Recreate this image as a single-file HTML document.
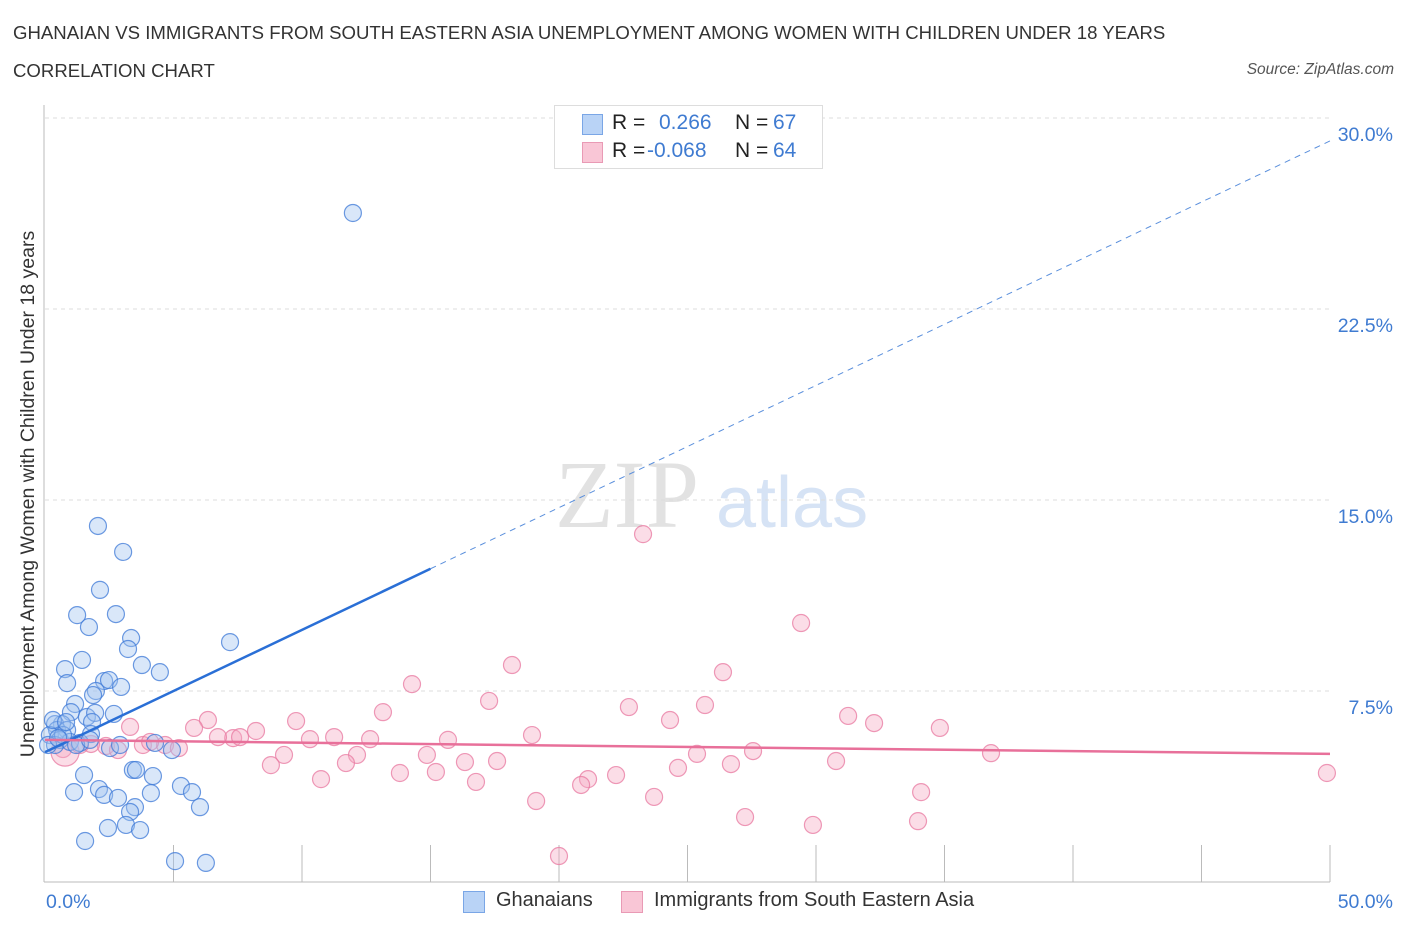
<!DOCTYPE html>
<html><head><meta charset="utf-8"><style>
body{margin:0;background:#fff;font-family:"Liberation Sans",sans-serif;}
#wrap{position:relative;width:1406px;height:930px;overflow:hidden;}
.t{position:absolute;white-space:nowrap;}
</style></head><body>
<div id="wrap">
<div class="t" style="left:13px;top:22px;font-size:18.6px;color:#333;">GHANAIAN VS IMMIGRANTS FROM SOUTH EASTERN ASIA UNEMPLOYMENT AMONG WOMEN WITH CHILDREN UNDER 18 YEARS</div>
<div class="t" style="left:13px;top:60px;font-size:18.6px;color:#333;">CORRELATION CHART</div>
<div class="t" style="right:12px;top:61px;font-size:15.5px;color:#555;font-style:italic;">Source: ZipAtlas.com</div>
<svg id="svg" width="1406" height="930" style="position:absolute;left:0;top:0"></svg>
</div>
<script>
const xTickLabels=["0.0%","50.0%"];
const yTicks=[7.5,15,22.5,30];
const yTickLabels=["7.5%","15.0%","22.5%","30.0%"];
const blueX=[11.98,2.06,3.04,2.14,1.25,2.76,1.71,3.35,3.23,7.20,1.44,3.77,4.47,0.78,0.86,2.30,2.49,2.96,1.98,1.87,1.17,1.01,1.63,1.95,2.68,1.83,0.66,0.39,0.47,0.19,0.86,0.58,0.39,0.97,1.79,1.36,2.53,4.28,4.94,3.42,3.54,1.52,4.20,5.29,2.10,1.13,2.30,5.72,2.84,4.12,3.50,6.03,3.31,2.45,3.15,3.70,1.56,5.06,6.26,0.12,0.70,1.21,0.51,0.31,0.82,1.75,2.92];
const blueY=[26.27,13.98,12.96,11.47,10.48,10.52,10.01,9.58,9.15,9.42,8.72,8.52,8.24,8.36,7.81,7.89,7.93,7.66,7.50,7.34,6.99,6.67,6.48,6.64,6.60,6.28,6.20,6.20,5.97,5.77,5.97,5.58,5.38,5.50,5.81,5.46,5.26,5.46,5.18,4.40,4.40,4.20,4.16,3.77,3.65,3.53,3.42,3.53,3.30,3.49,2.94,2.94,2.75,2.12,2.24,2.04,1.61,0.82,0.75,5.38,5.77,5.38,5.65,6.36,6.28,5.58,5.38];
const pinkX=[23.27,29.42,18.17,26.38,14.28,17.28,25.68,22.72,13.15,6.34,9.77,24.32,31.25,32.26,34.82,5.80,3.31,8.21,7.32,6.73,10.31,11.25,12.65,15.68,18.95,4.67,3.81,5.21,2.37,1.79,0.70,0.78,2.84,9.30,8.79,12.14,14.86,16.34,17.59,25.37,27.55,30.78,36.81,26.69,24.63,11.71,13.81,15.21,10.74,16.77,21.13,22.22,20.86,34.09,23.70,19.11,27.24,29.88,33.97,20.00,49.88,7.59,4.09,1.36];
const pinkY=[13.66,10.17,8.52,8.24,7.77,7.11,6.95,6.87,6.67,6.36,6.32,6.36,6.52,6.24,6.05,6.05,6.09,5.93,5.65,5.69,5.61,5.69,5.61,5.58,5.77,5.38,5.38,5.26,5.34,5.42,5.22,5.10,5.18,4.99,4.59,4.99,4.99,4.71,4.75,5.03,5.14,4.75,5.06,4.63,4.48,4.67,4.28,4.32,4.04,3.93,4.04,4.20,3.81,3.53,3.34,3.18,2.55,2.24,2.39,1.02,4.28,5.69,5.50,5.38];
const blueTrend=[5.1,29.1];
const pinkTrend=[5.58,5.03];
const NS="http://www.w3.org/2000/svg";
const svg=document.getElementById('svg');
const X0=45,X1=1330,Y0=882,Y30=118;
const xs=v=>X0+v/50*(X1-X0);
const ys=v=>Y0-v/30*(Y0-Y30);
function mk(tag,attrs,parent){const e=document.createElementNS(NS,tag);for(const k in attrs)e.setAttribute(k,attrs[k]);(parent||svg).appendChild(e);return e;}
let wm=mk('text',{x:555,y:527,'font-family':'Liberation Serif,serif','font-size':96,fill:'#e2e2e2'});wm.textContent='ZIP';


let wm2=mk('text',{x:716,y:527,'font-family':'Liberation Sans,sans-serif','font-size':72,fill:'#d6e3f5'});wm2.textContent='atlas';


yTicks.forEach((t,i)=>{
 const g=mk('line',{x1:X0,x2:X1,y1:ys(t),y2:ys(t),stroke:'#dcdcdc','stroke-dasharray':'4,4'});
 
 
 const tx=mk('text',{x:1393,y:ys(t)+23,'text-anchor':'end','font-size':19.5,fill:'#3f7bd1','font-family':'Liberation Sans,sans-serif'});
 tx.textContent=yTickLabels[i];
 
 
});
let ax=mk('line',{x1:44,x2:44,y1:105,y2:Y0,stroke:'#bbb'});


let bx=mk('line',{x1:44,x2:X1,y1:Y0,y2:Y0,stroke:'#bbb'});


for(let v=5;v<=50;v+=5){const tk=mk('line',{x1:xs(v),x2:xs(v),y1:845,y2:Y0,stroke:'#bbb'});
 
 }
[[0,'start',46],[50,'end',1393]].forEach((a,i)=>{const t=mk('text',{x:a[2],y:908,'text-anchor':a[1],'font-size':19.5,fill:'#3f7bd1','font-family':'Liberation Sans,sans-serif'});t.textContent=xTickLabels[i];
 
 });
let yt=mk('text',{x:34,y:494,'text-anchor':'middle','font-size':19.5,fill:'#333',transform:'rotate(-90 34 494)','font-family':'Liberation Sans,sans-serif'});
yt.textContent='Unemployment Among Women with Children Under 18 years';


function pts(X,Y,fill,stroke,name){X.forEach((x,i)=>{const r=(name==='pink-point'&&i===31)?14:8.5;
 const c=mk('circle',{cx:xs(x),cy:ys(Y[i]),r:r,fill:fill,stroke:stroke,'stroke-width':1.2});
 
 });}
pts(pinkX,pinkY,'rgba(246,170,195,0.4)','rgba(232,120,160,0.75)','pink-point');
pts(blueX,blueY,'rgba(160,195,240,0.4)','rgba(60,120,215,0.75)','blue-point');
const bAt=v=>blueTrend[0]+(blueTrend[1]-blueTrend[0])*v/50;
let bl=mk('line',{x1:xs(0),y1:ys(bAt(0)),x2:xs(15),y2:ys(bAt(15)),stroke:'#2a6fd6','stroke-width':2.5});


let bd=mk('line',{x1:xs(15),y1:ys(bAt(15)),x2:xs(50),y2:ys(bAt(50)),stroke:'#5a8fdc','stroke-width':1,'stroke-dasharray':'6,5'});


let pl=mk('line',{x1:xs(0),y1:ys(pinkTrend[0]),x2:xs(50),y2:ys(pinkTrend[1]),stroke:'#e8709a','stroke-width':2.5});


</script>
<div class="t" style="left:554px;top:105px;width:267px;height:62px;border:1px solid #ddd;background:#fff;font-size:21px;">
 <div style="position:absolute;left:27px;top:8px;width:19px;height:19px;background:#b9d3f6;border:1px solid #7aa6e6;"></div>
 <div class="t" style="left:57px;top:5px;color:#222;">R =</div><div class="t" style="left:104px;top:5px;color:#3f7bd1;">0.266</div>
 <div class="t" style="left:180px;top:5px;color:#222;">N =</div><div class="t" style="left:218px;top:5px;color:#3f7bd1;">67</div>
 <div style="position:absolute;left:27px;top:36px;width:19px;height:19px;background:#f9c6d6;border:1px solid #e99ab5;"></div>
 <div class="t" style="left:57px;top:33px;color:#222;">R =</div><div class="t" style="left:92px;top:33px;color:#3f7bd1;">-0.068</div>
 <div class="t" style="left:180px;top:33px;color:#222;">N =</div><div class="t" style="left:218px;top:33px;color:#3f7bd1;">64</div>
</div>
<div style="position:absolute;left:463px;top:891px;width:20px;height:20px;background:#b9d3f6;border:1px solid #7aa6e6;"></div>
<div class="t" style="left:496px;top:889px;font-size:20px;color:#333;">Ghanaians</div>
<div style="position:absolute;left:621px;top:891px;width:20px;height:20px;background:#f9c6d6;border:1px solid #e99ab5;"></div>
<div class="t" style="left:654px;top:889px;font-size:20px;color:#333;">Immigrants from South Eastern Asia</div>
</body></html>
